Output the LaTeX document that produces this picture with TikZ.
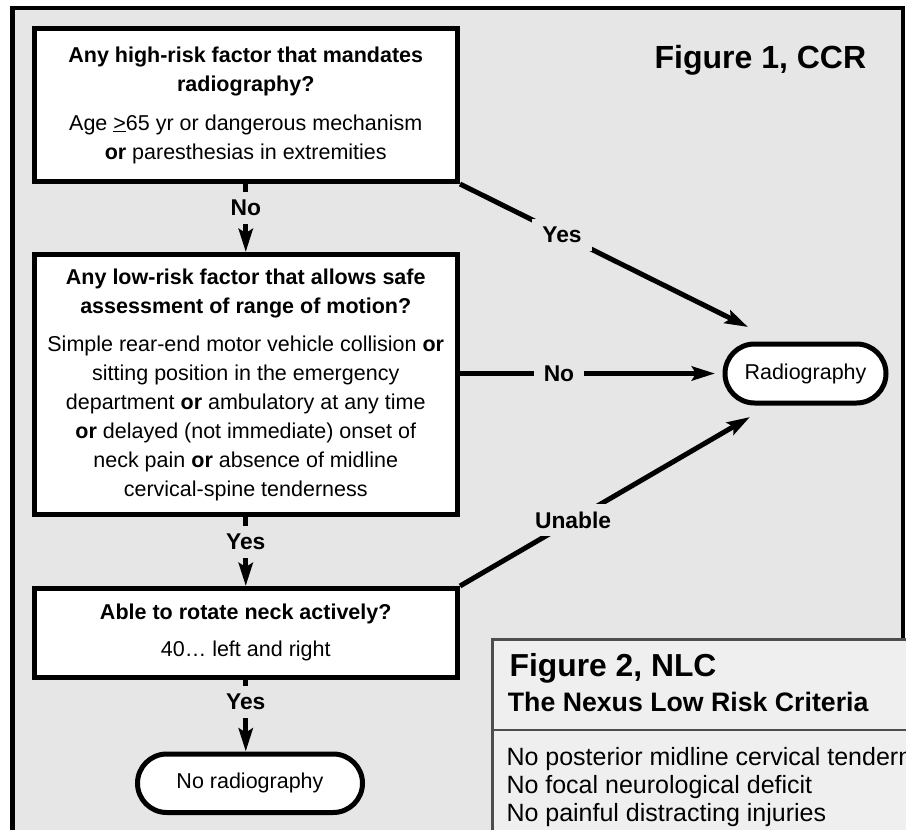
\documentclass[tikz,border=0pt]{standalone}
\usepackage{fontspec}
\setmainfont{Liberation Sans}
\usetikzlibrary{arrows.meta,shapes.misc}
\definecolor{bg}{HTML}{E6E6E6}
\definecolor{nlcbg}{HTML}{EFEFEF}
\definecolor{nlcline}{HTML}{4D4D4D}
\begin{document}
\begin{tikzpicture}[x=1pt,y=-1pt,
  box/.style={draw=black, line width=5pt, fill=white, minimum width=423.5pt, align=center, inner sep=0pt, font=\fontsize{21.5}{29}\selectfont},
  term/.style={draw=black, line width=5pt, fill=white, rounded rectangle, inner sep=0pt, font=\fontsize{21.5}{26}\selectfont},
  arr/.style={line width=5pt, -{Stealth[length=23pt,width=14pt,inset=4pt]}},
  lbl/.style={fill=bg, font=\bfseries\fontsize{22.8}{26}\selectfont, inner xsep=10pt, inner ysep=8pt},
  ttl/.style={anchor=base west, inner sep=0pt, font=\bfseries\fontsize{31.8}{36}\selectfont},
  crit/.style={anchor=base west, inner sep=0pt, font=\fontsize{25}{28}\selectfont},
]
\clip (0,0) rectangle (906,830);
\fill[white] (0,0) rectangle (906,830);
% outer frame
\draw[line width=4.5pt, fill=bg] (12.5,8) rectangle (903,900);

% flowchart boxes
\node[box, minimum height=153pt] (b1) at (245.75,105) {\textbf{Any high-risk factor that mandates}\\\textbf{radiography?}\\[10pt]Age \underline{>}65 yr or dangerous mechanism\\\textbf{or} paresthesias in extremities};
\node[box, minimum height=260pt] (b2) at (245.75,384.5) {\textbf{Any low-risk factor that allows safe}\\\textbf{assessment of range of motion?}\\[9pt]Simple rear-end motor vehicle collision \textbf{or}\\sitting position in the emergency\\department \textbf{or} ambulatory at any time\\\textbf{or} delayed (not immediate) onset of\\neck pain \textbf{or} absence of midline\\cervical-spine tenderness};
\node[box, minimum height=88.5pt] (b3) at (245.75,632.75) {\textbf{Able to rotate neck actively?}\\[8pt]40… left and right};
\node[term, minimum width=225pt, minimum height=58.5pt] (nrad) at (250,783.25) {No radiography};
\node[term, minimum width=161pt, minimum height=59pt] (rad) at (805.5,373.5) {Radiography};

\node[ttl, font=\bfseries\fontsize{32}{36}\selectfont] (t1) at (654.4,68.3) {Figure 1, CCR};

% connectors
\coordinate (yT) at (748,327);
\coordinate (uT) at (750,417);
\draw[arr] (b1.south) -- node[lbl,pos=0.35]{No} (b2.north);
\draw[arr] (b2.south) -- node[lbl,pos=0.36]{Yes} (b3.north);
\draw[arr] (b3.south) -- node[lbl,pos=0.31]{Yes} (b3.south |- nrad.north);
\draw[arr, shorten >=7.5pt] (b2.east |- rad) -- node[lbl,pos=0.377]{No} (rad.west);
\draw[arr] (b1.south east) -- node[lbl,pos=0.354]{Yes} (yT);
\draw[arr] (b3.north east) -- node[lbl,pos=0.39]{Unable} (uT);

% NLC panel
\node[draw=nlcline, line width=2.5pt, fill=nlcbg, anchor=north west, minimum width=450pt, minimum height=260pt, inner sep=0pt] (nlc) at (491,638) {};
\draw[nlcline, line width=2pt] (nlc.west |- 0,729.5) -- ++(460,0);
\node[ttl] (t2) at (509.5,676) {Figure 2, NLC};
\node[crit, font=\bfseries\fontsize{26.7}{30}\selectfont] (t3) at (507.7,711.7) {The Nexus Low Risk Criteria};
\node[crit] (c1) at (506.3,765) {No posterior midline cervical tenderness};
\node[crit] (c2) at (506.3,793.3) {No focal neurological deficit};
\node[crit] (c3) at (506.3,821.6) {No painful distracting injuries};
\end{tikzpicture}
\end{document}
